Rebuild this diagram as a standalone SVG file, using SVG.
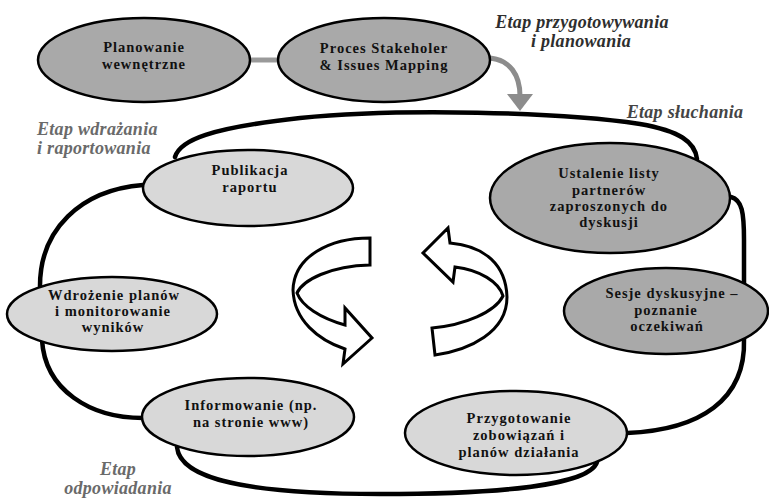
<svg xmlns="http://www.w3.org/2000/svg" width="769" height="502" viewBox="0 0 769 502">
<defs>
<style>
.node-dark{fill:#a9a9a9;stroke:#000;stroke-width:2.5}
.node-light{fill:#d8d8d8;stroke:#000;stroke-width:2.5}
.lbl{font-family:"Liberation Serif","Times New Roman",serif;font-weight:bold;font-size:14.5px;letter-spacing:1px;fill:#111;text-anchor:middle}
.stage{font-family:"Liberation Serif","Times New Roman",serif;font-weight:bold;font-style:italic;font-size:18px;letter-spacing:0.3px}
.loop{fill:none;stroke:#000;stroke-width:4.5;stroke-linecap:round}
.turn{fill:#fff;stroke:#000;stroke-width:3;stroke-linejoin:miter}
</style>
</defs>
<rect width="769" height="502" fill="#fff"/>

<g id="connectors">
  <path d="M250,60 L279,60" stroke="#9a9a9a" stroke-width="5" fill="none"/>
  <path d="M490,58 C510,60 520,75 520,96" stroke="#8c8c8c" stroke-width="5" fill="none"/>
  <polygon points="507,94 533,94 520,111" fill="#8c8c8c"/>
  <path class="loop" d="M175,157 C180,140 210,128 300,118 C400,108 560,112 640,124 C680,131 695,142 697,159"/>
  <path class="loop" d="M731,197 C742,200 744,212 744,240 L744,283"/>
  <path class="loop" d="M744,339 C746,400 700,430 627,433"/>
  <path class="loop" d="M597,462 C590,485 500,494 380,494 C250,494 180,480 177,447"/>
  <path class="loop" d="M143,418 C90,418 45,390 42,340"/>
  <path class="loop" d="M40,286 C40,230 80,190 143,185"/>
  <path class="turn" d="M370,238 C330,238 294,256 293,290 C294,320 318,340 345,349 L343,364 L372,338 L345,308 L345,325 C320,318 302,306 297,293 C303,280 330,266 370,265 Z"/>
  <path class="turn" d="M435,355 C470,350 507,332 507,297 C506,265 485,246 450,243 L448,228 L423,253 L453,282 L455,267 C480,270 499,282 503,296 C495,312 465,325 432,328 Z"/>
</g>

<g id="stage-prep">
  <text class="stage" x="582" y="28" text-anchor="middle" fill="#2e2e2e">Etap przygotowywania</text>
  <text class="stage" x="581" y="47" text-anchor="middle" fill="#2e2e2e">i planowania</text>
</g>
<g id="stage-listen">
  <text class="stage" x="685" y="118" text-anchor="middle" fill="#444">Etap słuchania</text>
</g>
<g id="stage-impl">
  <text class="stage" x="37" y="135" fill="#6a6a6a">Etap wdrażania</text>
  <text class="stage" x="37" y="154" fill="#6a6a6a">i raportowania</text>
</g>
<g id="stage-respond">
  <text class="stage" x="118" y="475" text-anchor="middle" fill="#6a6a6a">Etap</text>
  <text class="stage" x="118" y="494" text-anchor="middle" fill="#6a6a6a">odpowiadania</text>
</g>

<g id="n-planowanie">
  <ellipse class="node-dark" cx="144" cy="60" rx="106" ry="42"/>
  <text class="lbl" x="144" y="52">Planowanie</text>
  <text class="lbl" x="144" y="69">wewnętrzne</text>
</g>
<g id="n-proces">
  <ellipse class="node-dark" cx="384" cy="60" rx="106" ry="42"/>
  <text class="lbl" x="384" y="53">Proces Stakeholer</text>
  <text class="lbl" x="384" y="70">&amp; Issues Mapping</text>
</g>
<g id="n-publikacja">
  <ellipse class="node-light" cx="248" cy="188" rx="105" ry="38"/>
  <text class="lbl" x="250" y="175">Publikacja</text>
  <text class="lbl" x="250" y="192">raportu</text>
</g>
<g id="n-ustalenie">
  <ellipse class="node-dark" cx="610" cy="198" rx="120" ry="55"/>
  <text class="lbl" x="609" y="178">Ustalenie listy</text>
  <text class="lbl" x="609" y="195">partnerów</text>
  <text class="lbl" x="609" y="211">zaproszonych do</text>
  <text class="lbl" x="609" y="227">dyskusji</text>
</g>
<g id="n-sesje">
  <ellipse class="node-dark" cx="666" cy="311" rx="102" ry="43"/>
  <text class="lbl" x="672" y="298">Sesje dyskusyjne –</text>
  <text class="lbl" x="666" y="315">poznanie</text>
  <text class="lbl" x="667" y="331">oczekiwań</text>
</g>
<g id="n-wdrozenie">
  <ellipse class="node-light" cx="112" cy="314" rx="105" ry="37"/>
  <text class="lbl" x="114" y="300">Wdrożenie planów</text>
  <text class="lbl" x="113" y="316">i monitorowanie</text>
  <text class="lbl" x="113" y="332">wyników</text>
</g>
<g id="n-informowanie">
  <ellipse class="node-light" cx="248" cy="417" rx="106" ry="39"/>
  <text class="lbl" x="251" y="410">Informowanie (np.</text>
  <text class="lbl" x="251" y="427">na stronie www)</text>
</g>
<g id="n-przygotowanie">
  <ellipse class="node-light" cx="516" cy="433" rx="111" ry="42"/>
  <text class="lbl" x="519" y="423">Przygotowanie</text>
  <text class="lbl" x="519" y="440">zobowiązań i</text>
  <text class="lbl" x="519" y="457">planów działania</text>
</g>
</svg>
